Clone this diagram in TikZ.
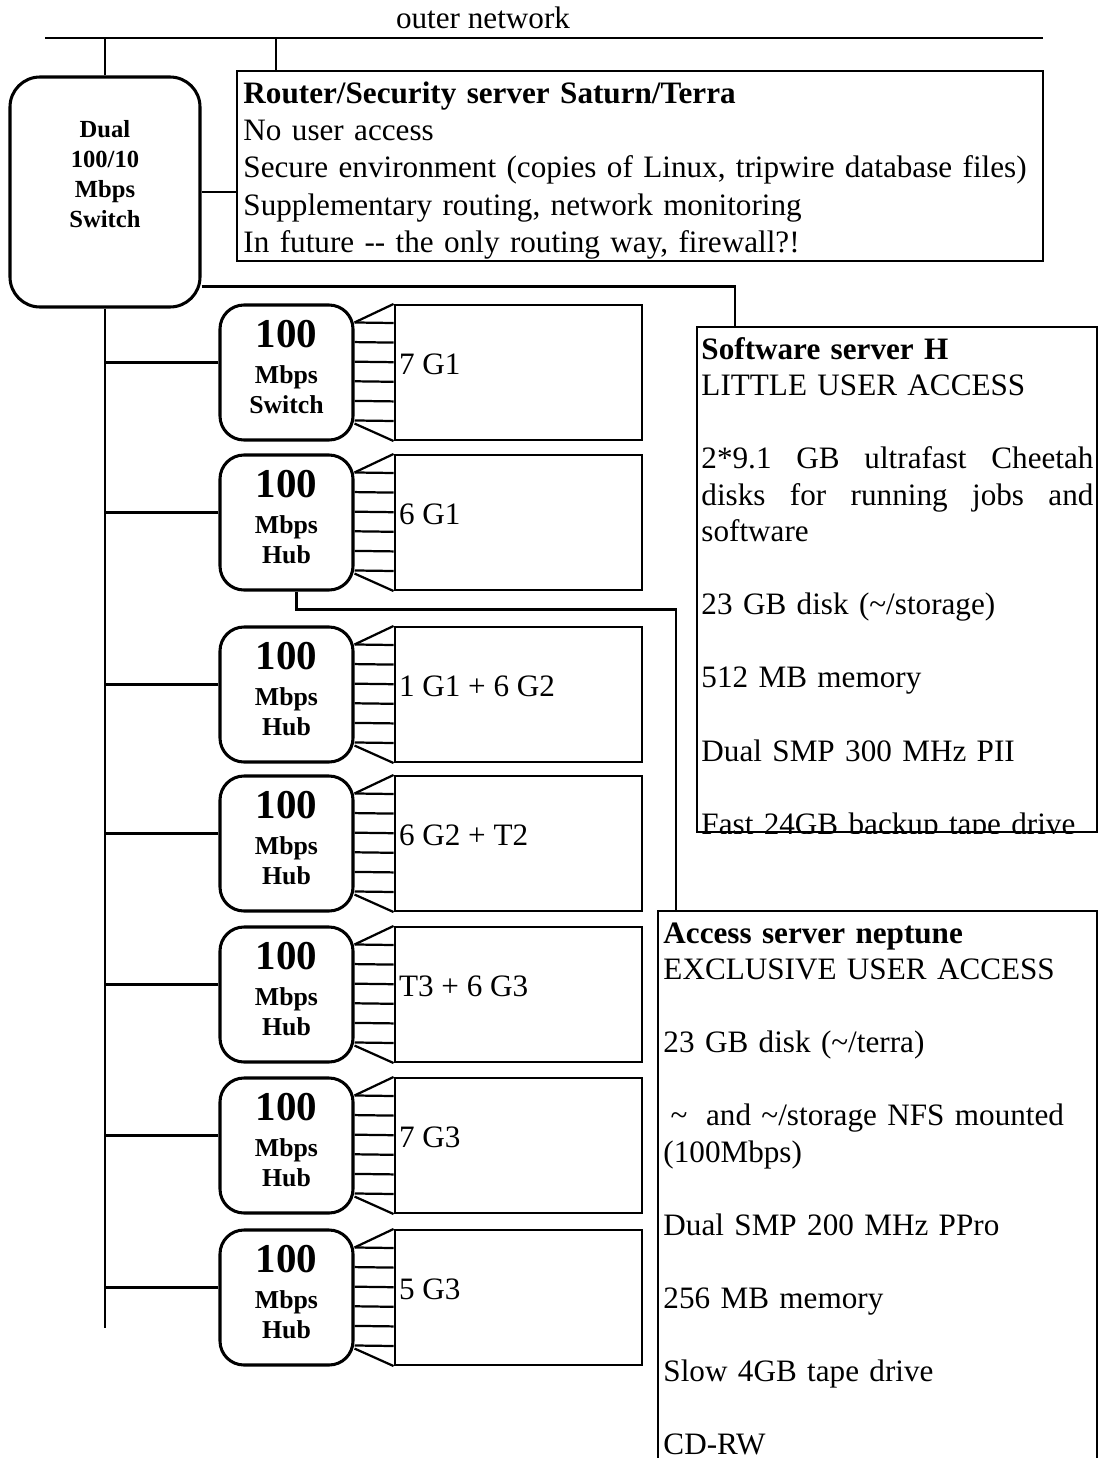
\documentclass[tikz,border=0pt]{standalone}
\usepackage{fontspec}
\setmainfont{Liberation Serif}
\usepackage{tikz}
\usetikzlibrary{positioning,calc}
\definecolor{ink}{HTML}{000000}
\tikzset{
  wire/.style  = {draw=ink, line width=0.95pt},
  rbox/.style  = {draw=ink, line width=1.3pt, rounded corners=0.36cm, inner sep=0pt, align=center, text=ink},
  hub/.style   = {rbox, minimum width=1.995cm, minimum height=2.025cm, text depth=0.18cm,
                  font=\bfseries\fontsize{11}{12.8}\selectfont},
  pcbox/.style = {draw=ink, line width=0.85pt, minimum width=3.705cm, minimum height=2.025cm, inner sep=0pt},
  srv/.style   = {draw=ink, line width=0.85pt, inner sep=0pt},
  txt/.style   = {anchor=base west, inner sep=0pt, align=left, text=ink,
                  font=\fontsize{13.3}{15.6}\selectfont},
  pclab/.style = {anchor=west, inner sep=0pt, text=ink, font=\fontsize{13.3}{15.6}\selectfont},
}
\newcommand{\hublab}[1]{{\fontsize{17.5}{18}\selectfont 100}\\[2.6pt]Mbps\\#1}
\newcommand{\gap}{\\[15.6pt]}

\begin{document}
\begin{tikzpicture}[x=0.015cm, y=-0.015cm]
  \useasboundingbox (0,0) rectangle (1098,1458);
  \clip (0,0) rectangle (1098,1458);

  % ---------------- outer network ----------------
  \coordinate (netL) at (45,38);
  \coordinate (netR) at (1043,38);
  \draw[wire] (netL) -- (netR);
  \node[pclab, anchor=center] (outer) at (483,18) {outer network};

  % ---------------- main switch ----------------
  \node[rbox, minimum width=2.85cm, minimum height=3.45cm, rounded corners=0.45cm] (sw) at (105,192) {};
  \node[font=\bfseries\fontsize{10.5}{12.8}\selectfont, align=center, inner sep=0pt] (swl) at (105,174)
       {Dual\\100/10\\Mbps\\Switch};
  \draw[wire] (sw.north) -- (sw.north |- netL);

  % ---------------- router / security server ----------------
  \node[srv, minimum width=12.09cm, minimum height=2.85cm] (rt) at (640,166) {};
  \begin{scope}
    \clip (rt.north west) rectangle (rt.south east);
    \node[txt, text width=12.6cm, font=\fontsize{13.3}{16}\selectfont] (rtt) at (243,103)
         {\textbf{Router/Security server Saturn/Terra}\\
          No user access\\
          Secure environment (copies of Linux, tripwire database files)\\
          Supplementary routing, network monitoring\\
          In future -{}- the only routing way, firewall?!};
  \end{scope}
  \coordinate (rtup) at ([xshift=0.6cm]rt.north west);
  \draw[wire] (rtup) -- (rtup |- netL);
  \draw[wire] (sw.east) -- (sw.east -| rt.west);

  % ---------------- software server ----------------
  \node[srv, minimum width=6cm, minimum height=7.575cm] (sh) at (897,579.5) {};
  \begin{scope}
    \clip (sh.north west) rectangle (sh.south east);
    \node[txt, text width=5.88cm] (sht) at (701,359)
         {\textbf{Software server H}\\
          LITTLE USER ACCESS\gap
          2*9.1 \hfill GB \hfill ultrafast \hfill Cheetah\\
          disks \hfill for \hfill running \hfill jobs \hfill and\\
          software\gap
          23 GB disk (\textasciitilde/storage)\gap
          512 MB memory\gap
          Dual SMP 300 MHz PII\gap
          Fast 24GB backup tape drive};
  \end{scope}
  \draw[wire] ([yshift=0.33cm]sw.south east) -| ([xshift=0.585cm]sh.north west);

  % ---------------- access server ----------------
  \node[srv, minimum width=6.585cm, minimum height=8.535cm] (ac) at (877.5,1195.5) {};
  \node[txt, text width=6.4cm] (act) at (663,943)
       {\textbf{Access server neptune}\\
        EXCLUSIVE USER ACCESS\gap
        23 GB disk (\textasciitilde/terra)\gap
        \hspace*{3pt}\textasciitilde\hspace{8pt}and \textasciitilde/storage NFS mounted\\
        (100Mbps)\gap
        Dual SMP 200 MHz PPro\gap
        256 MB memory\gap
        Slow 4GB tape drive\gap
        CD-RW};

  % ---------------- hubs and their machines ----------------
  \node[hub] (h1) at (286.5,372.5) {\hublab{Switch}};
  \node[hub] (h2) at (286.5,522.5) {\hublab{Hub}};
  \node[hub] (h3) at (286.5,694.5) {\hublab{Hub}};
  \node[hub] (h4) at (286.5,843.5) {\hublab{Hub}};
  \node[hub] (h5) at (286.5,994.5) {\hublab{Hub}};
  \node[hub] (h6) at (286.5,1145.5) {\hublab{Hub}};
  \node[hub] (h7) at (286.5,1297.5) {\hublab{Hub}};

  \node[pcbox, right=0.585cm of h1] (p1) {};
  \node[pcbox, right=0.585cm of h2] (p2) {};
  \node[pcbox, right=0.585cm of h3] (p3) {};
  \node[pcbox, right=0.585cm of h4] (p4) {};
  \node[pcbox, right=0.585cm of h5] (p5) {};
  \node[pcbox, right=0.585cm of h6] (p6) {};
  \node[pcbox, right=0.585cm of h7] (p7) {};

  \node[pclab] (l1) at ([xshift=0.075cm, yshift=0.12cm]p1.west) {7 G1};
  \node[pclab] (l2) at ([xshift=0.075cm, yshift=0.12cm]p2.west) {6 G1};
  \node[pclab] (l3) at ([xshift=0.075cm, yshift=0.12cm]p3.west) {1 G1 + 6 G2};
  \node[pclab] (l4) at ([xshift=0.075cm, yshift=0.12cm]p4.west) {6 G2 + T2};
  \node[pclab] (l5) at ([xshift=0.075cm, yshift=0.12cm]p5.west) {T3 + 6 G3};
  \node[pclab] (l6) at ([xshift=0.075cm, yshift=0.12cm]p6.west) {7 G3};
  \node[pclab] (l7) at ([xshift=0.075cm, yshift=0.12cm]p7.west) {5 G3};

  % main bus
  \coordinate (busend) at (105,1328);
  \draw[wire] (sw.south) -- (busend);

  % drops from the bus, and the fan of cables to each machine group
  \foreach \i in {1,...,7}{
    \draw[wire] ($(h\i.west)+(0,-10)$) -- ($(h\i.west -| sw.south)+(0,-10)$);
    \draw[wire] ($(h\i.north east)+(0,19)$) -- (p\i.north west);
    \draw[wire] ($(h\i.south east)+(0,-18)$) -- (p\i.south west);
    \foreach \k in {0,...,5}
      \draw[wire] ($(h\i.north east)+(0,19+19.6*\k)$) -- ($(p\i.north west)+(0,19+19.6*\k)$);
  }

  % second hub also feeds the access server
  \draw[wire] ([xshift=0.15cm]h2.south) -- ++(0,18) -| ([xshift=0.285cm]ac.north west);
\end{tikzpicture}
\end{document}
